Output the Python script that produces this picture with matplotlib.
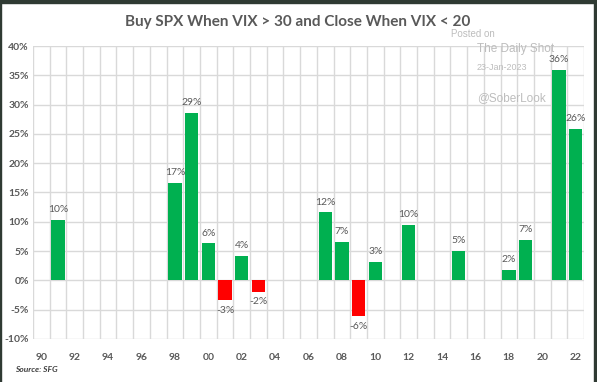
import matplotlib
matplotlib.use("Agg")
import matplotlib.pyplot as plt
from matplotlib.patches import Rectangle

years = list(range(1990, 2023))
values = {1991: 10.3, 1998: 16.7, 1999: 28.6, 2000: 6.3, 2001: -3.4, 2002: 4.2,
          2003: -1.9, 2007: 11.6, 2008: 6.6, 2009: -6.1, 2010: 3.2, 2012: 9.5,
          2015: 5.0, 2018: 1.8, 2019: 6.9, 2021: 35.9, 2022: 25.8}
labels = {1991: "10%", 1998: "17%", 1999: "29%", 2000: "6%", 2001: "-3%", 2002: "4%",
          2003: "-2%", 2007: "12%", 2008: "7%", 2009: "-6%", 2010: "3%", 2012: "10%",
          2015: "5%", 2018: "2%", 2019: "7%", 2021: "36%", 2022: "26%"}
y_ticks = [-10, -5, 0, 5, 10, 15, 20, 25, 30, 35, 40]

GREEN = "#00B050"
RED = "#FF0000"
GRAY = "#595959"

fig = plt.figure(figsize=(5.97, 3.82), dpi=100)
fig.patch.set_facecolor("white")
# dark frame
fig.add_artist(Rectangle((0, 1 - 3/382), 1, 3/382, transform=fig.transFigure, color="#2f3a33", zorder=10))
fig.add_artist(Rectangle((1 - 3/597, 0), 3/597, 1, transform=fig.transFigure, color="#2f3a33", zorder=10))
fig.add_artist(Rectangle((0, 0), 1.2/597, 1, transform=fig.transFigure, color="#2f3a33", zorder=10))

ax = fig.add_axes([33/597, 1 - 339/382, (584 - 33)/597, (339 - 46)/382])
xs = list(range(len(years)))
for i, yr in enumerate(years):
    if yr in values:
        v = values[yr]
        ax.bar(i, v, width=0.8, color=GREEN if v >= 0 else RED, zorder=3)
        if v >= 0:
            ax.text(i, v + 1.0, labels[yr], ha="center", va="bottom", fontsize=7.5,
                    color=GRAY, family="Lato", zorder=4)
        else:
            ax.text(i, v - 1.0, labels[yr], ha="center", va="top", fontsize=7.5,
                    color=GRAY, family="Lato", zorder=4)

ax.set_xlim(-0.5, len(years) - 0.5)
ax.set_ylim(-10, 40)
ax.set_yticks(y_ticks)
ax.set_yticklabels([f"{t}%" for t in y_ticks], fontsize=7.5, color=GRAY,
                   family="Lato", fontweight="bold")
ax.set_xticks(xs[::2])
ax.set_xticklabels([f"{yr % 100:02d}" for yr in years[::2]], fontsize=7.5,
                   color=GRAY, family="Lato", fontweight="bold")
ax.tick_params(axis="both", length=0)
ax.tick_params(axis="x", pad=10)
ax.tick_params(axis="y", pad=3)
for t in y_ticks:
    ax.axhline(t, color="#d9d9d9", lw=1.0, zorder=1)
for b in range(len(years) + 1):
    ax.axvline(b - 0.5, color="#d9d9d9", lw=1.0, zorder=1)
for s in ax.spines.values():
    s.set_visible(False)

fig.text(298/597, 1 - 22/382, "Buy SPX When VIX > 30 and Close When VIX < 20",
         ha="center", va="center", fontsize=11, fontweight="bold", color=GRAY, family="Lato")

wm = "#bdbdbd"
fig.text(451/597, 1 - 34/382, "Posted on", fontsize=7, color=wm, va="center", family="Liberation Sans")
fig.text(477/597, 1 - 49/382, "The Daily Shot", fontsize=8.5, color=wm, va="center", family="Liberation Sans")
fig.text(477/597, 1 - 67/382, "23-Jan-2023", fontsize=6.5, color=wm, va="center", family="Liberation Sans")
fig.text(477/597, 1 - 98/382, "@SoberLook", fontsize=8.5, color=wm, va="center", family="Liberation Sans")

fig.text(15/597, 1 - 370/382, "Source: SFG", fontsize=6, fontweight="bold", fontstyle="italic",
         color="#404040", va="center", family="Lato")

fig.savefig("out.png", dpi=100)
